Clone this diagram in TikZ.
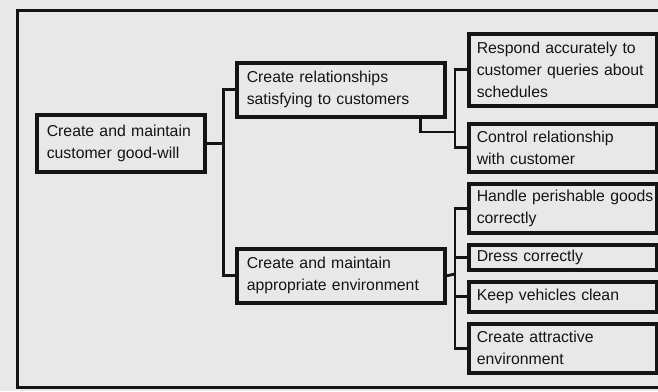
\documentclass[tikz,border=0pt]{standalone}
\usepackage{fontspec}
\setmainfont{Liberation Sans}
\usetikzlibrary{calc}
\definecolor{paper}{gray}{0.91}
\definecolor{ink}{gray}{0.08}

\begin{document}
\begin{tikzpicture}[x=0.5pt,y=-0.5pt,
  box/.style={draw=ink,line width=1.8pt,fill=paper,anchor=north west,align=left,
    inner xsep=5pt,inner ysep=1pt,text=ink,font=\fontsize{7.9}{11}\selectfont},
  leaf/.style={box,inner xsep=4pt,text width=86pt},
  link/.style={draw=ink,line width=1.4pt}]
\useasboundingbox (0,0) rectangle (658,391);
\clip (0,0) rectangle (658,391);
\fill[paper] (0,0) rectangle (658,391);
\draw[ink,line width=1.5pt] (17,10) rectangle (680,387);

\node[box,text width=74pt,minimum height=28.5pt] (goodwill) at (35,113) {Create and maintain\\customer good-will};
\node[box,text width=94pt,minimum height=27pt] (relation) at (235,61) {Create relationships\\satisfying to customers};
\node[box,text width=94pt,minimum height=27pt] (environ) at (235,247) {Create and maintain\\appropriate environment};

\node[leaf,minimum height=36pt] (respond) at (467,32) {Respond accurately to\\\mbox{customer queries about}\\schedules};
\node[leaf,minimum height=24pt] (control) at (467,122) {Control relationship\\with customer};
\node[leaf,minimum height=24.5pt] (handle) at (467,182) {\mbox{Handle perishable goods}\\correctly};
\node[leaf,minimum height=12.5pt] (dress) at (467,243) {Dress correctly};
\node[leaf,minimum height=15pt] (keep) at (467,280) {Keep vehicles clean};
\node[leaf,minimum height=24.5pt] (attract) at (467,322) {Create attractive\\environment};

\draw[link] (goodwill.east) -- ++(17,0) coordinate (gbus);
\draw[link] (relation.west) -| (gbus) |- (environ.west);

\coordinate (rbus) at (455,132);
\draw[link] ($(relation.south east)+(-26,0)$) |- (rbus);
\draw[link] (respond.west) -| (rbus) |- (control.west);

\coordinate (ebus) at (455,274);
\draw[link] (environ.east) -- (ebus);
\draw[link] (handle.west) -| (ebus) |- (attract.west);
\draw[link] (dress.west) -- (dress.west -| ebus);
\draw[link] (keep.west) -- (keep.west -| ebus);
\end{tikzpicture}
\end{document}
